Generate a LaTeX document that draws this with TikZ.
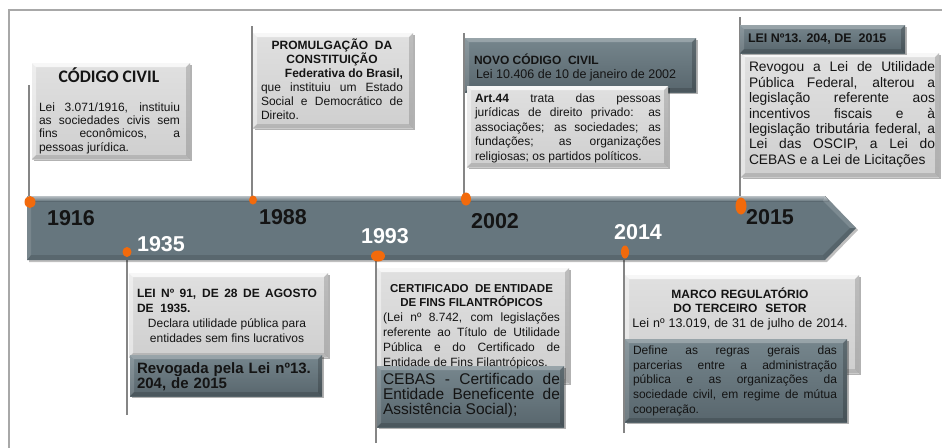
\documentclass[tikz,border=0pt]{standalone}
\usepackage{fontspec}
\setmainfont{Liberation Sans}
\newfontfamily\calib{Carlito}
\usetikzlibrary{shapes.geometric,shadows}
\definecolor{slate}{HTML}{66767E}
\definecolor{slatelt}{HTML}{76868D}
\definecolor{slatedk}{HTML}{58666D}
\definecolor{boxlt}{HTML}{E0E0E0}
\definecolor{boxmd}{HTML}{CFCFCF}
\definecolor{dotor}{HTML}{F26A0C}
\definecolor{polec}{HTML}{858585}
\definecolor{framec}{HTML}{A8A8A8}
\definecolor{ink}{HTML}{141414}
\hyphenpenalty=10000
\exhyphenpenalty=10000
\tolerance=9999
\newcommand\bevelpp[3]{%
  \fill[white,opacity=#2] (path picture bounding box.north west) -- (path picture bounding box.north east) -- ([shift={(-#1,-#1)}]path picture bounding box.north east) -- ([shift={(#1,-#1)}]path picture bounding box.north west) -- cycle;
  \fill[white,opacity=#2*0.6] (path picture bounding box.north west) -- (path picture bounding box.south west) -- ([shift={(#1,#1)}]path picture bounding box.south west) -- ([shift={(#1,-#1)}]path picture bounding box.north west) -- cycle;
  \fill[black,opacity=#3] (path picture bounding box.south west) -- (path picture bounding box.south east) -- ([shift={(-#1,#1)}]path picture bounding box.south east) -- ([shift={(#1,#1)}]path picture bounding box.south west) -- cycle;
  \fill[black,opacity=#3*1.3] (path picture bounding box.north east) -- (path picture bounding box.south east) -- ([shift={(-#1,#1)}]path picture bounding box.south east) -- ([shift={(-#1,-#1)}]path picture bounding box.north east) -- cycle;
}
\tikzset{
  boxbase/.style={anchor=north west, inner sep=0pt, outer sep=0pt,
    drop shadow={shadow xshift=2pt, shadow yshift=-2pt, opacity=0.3, fill=black}},
  lbox/.style={boxbase, top color=boxlt, bottom color=boxmd, path picture={\bevelpp{4pt}{0.75}{0.12}}},
  dbox/.style={boxbase, top color=slatelt, bottom color=slatedk, path picture={\bevelpp{4pt}{0.25}{0.15}}},
  txt/.style={inner sep=0pt, outer sep=0pt, anchor=base west, align=justify, text=ink},
  yr/.style={inner sep=0pt, anchor=base, font=\bfseries\fontsize{21.5}{21.5}\selectfont},
  dot/.style={ellipse, fill=dotor, inner sep=0pt},
  pole/.style={draw=polec, line width=1.8pt},
}
\begin{document}
\begin{tikzpicture}[x=1pt,y=-1pt]
\useasboundingbox (0,0) rectangle (942,447);
\clip (0,0) rectangle (942,447);
\fill[white] (0,0) rectangle (942,447);
% frame
\draw[framec, line width=1.3pt] (9,460) -- (9,10) -- (960,10);

% pole ends
\coordinate (c1916) at (29,85);
\coordinate (c1988) at (252,26);
\coordinate (c2002) at (464,33);
\coordinate (c2015) at (740,17);
\coordinate (c1935) at (127,415);
\coordinate (c1993) at (376,443);
\coordinate (c2014) at (624,433);
\coordinate (e1916) at (29,202);
\coordinate (e1988) at (252,200);
\coordinate (e2002) at (464,199);
\coordinate (e2015) at (740,206);
\coordinate (e1935) at (127,252);
\coordinate (e1993) at (376,256);
\coordinate (e2014) at (624,252);
\foreach \y in {1916,1988,2002,2015,1935,1993,2014}{\draw[pole] (c\y) -- (e\y);}

% arrow
\fill[slate, drop shadow={shadow xshift=2pt, shadow yshift=-2pt, opacity=0.25, fill=black}]
  (27,196) -- (825,196) -- (856,228) -- (825,260) -- (27,260) -- cycle;
\fill[top color=white!55!slate, bottom color=slate] (27,196) -- (825,196) -- (829,201) -- (31,201) -- cycle;
\fill[white,opacity=0.12] (27,196) -- (31,201) -- (31,255) -- (27,260) -- cycle;
\fill[black,opacity=0.12] (27,260) -- (31,255) -- (823,255) -- (825,260) -- cycle;
\fill[white,opacity=0.15] (825,196) -- (856,228) -- (850,228) -- (823,201) -- cycle;
\fill[black,opacity=0.15] (825,260) -- (856,228) -- (850,228) -- (823,255) -- cycle;

% dots
\node[dot, minimum width=11pt, minimum height=12pt] (d1916) at (30,202) {};
\node[dot, minimum width=8pt, minimum height=9pt] (d1988) at (253,200) {};
\node[dot, minimum width=10pt, minimum height=13pt] (d2002) at (466,199) {};
\node[dot, minimum width=11pt, minimum height=17pt] (d2015) at (741,206) {};
\node[dot, minimum width=9pt, minimum height=10pt] (d1935) at (127,252) {};
\node[dot, minimum width=14pt, minimum height=11pt] (d1993) at (378,256) {};
\node[dot, minimum width=8pt, minimum height=13pt] (d2014) at (625,252) {};

% years
\node[yr, text=ink] (y1916) at (71,225.7) {1916};
\node[yr, text=white] (y1935) at (161,251.7) {1935};
\node[yr, text=ink] (y1988) at (283,224.7) {1988};
\node[yr, text=white] (y1993) at (385,243.7) {1993};
\node[yr, text=ink] (y2002) at (495,228.7) {2002};
\node[yr, text=white] (y2014) at (638,239.7) {2014};
\node[yr, text=ink] (y2015) at (770,224.7) {2015};

% boxes top
\node[lbox, minimum width=158pt, minimum height=96pt] (b1916) at (32,63) {};
\node[lbox, minimum width=160pt, minimum height=95pt] (b1988) at (253,33) {};
\node[dbox, minimum width=231pt, minimum height=54pt] (b2002d) at (465,38) {};
\node[lbox, minimum width=201pt, minimum height=81pt] (b2002l) at (467,86) {};
\node[lbox, minimum width=198pt, minimum height=124pt] (b2015l) at (741,53) {};
\node[dbox, minimum width=165pt, minimum height=28pt] (b2015d) at (740,25) {};
% boxes bottom
\node[lbox, minimum width=199pt, minimum height=84pt] (b1935l) at (129,273) {};
\node[dbox, minimum width=192pt, minimum height=41pt] (b1935d) at (130,355) {};
\node[lbox, minimum width=192pt, minimum height=115pt] (b1993l) at (377,268) {};
\node[dbox, minimum width=187pt, minimum height=61pt] (b1993d) at (377,366) {};
\node[lbox, minimum width=234pt, minimum height=98pt] (b2014l) at (625,275) {};
\node[dbox, minimum width=222pt, minimum height=83pt] (b2014d) at (625,339) {};

% texts
\node[inner sep=0pt, anchor=base, text=ink, font=\calib\bfseries\fontsize{17.6}{18}\selectfont] (t1916a) at (109,82) {CÓDIGO CIVIL};
\node[txt, text width=141pt, font=\fontsize{12}{13.4}\selectfont] (t1916b) at (39,111)
  {Lei 3.071/1916, instituiu\linebreak as sociedades civis sem\linebreak fins econômicos, a\linebreak pessoas jurídica.};

\node[txt, text width=142pt, font=\fontsize{12}{14}\selectfont] (t1988) at (261,49.5)
  {{\centering\bfseries PROMULGAÇÃO\ \ DA\\CONSTITUIÇÃO\par}{\raggedleft\bfseries Federativa do Brasil,\par}que instituiu um Estado\linebreak Social e Democrático de\linebreak Direito.};

\node[txt, font=\bfseries\fontsize{12}{12}\selectfont] (t2002a) at (474,64.3) {NOVO CÓDIGO\ \ CIVIL};
\node[txt, font=\fontsize{12.5}{12.5}\selectfont] (t2002b) at (476,78.4) {Lei 10.406 de 10 de janeiro de 2002};
\node[txt, text width=186pt, font=\fontsize{12}{14.5}\selectfont] (t2002c) at (475,102.2)
  {\textbf{Art.44} trata das pessoas\linebreak jurídicas de direito privado: as\linebreak associações; as sociedades; as\linebreak fundações; as organizações\linebreak religiosas; os partidos políticos.};

\node[txt, font=\bfseries\fontsize{12.5}{12.5}\selectfont] (t2015a) at (748,42.3) {LEI Nº13. 204, DE\ \ 2015};
\node[txt, text width=186pt, font=\fontsize{13.8}{15.4}\selectfont] (t2015b) at (749,71.8)
  {Revogou a Lei de Utilidade\linebreak Pública Federal, alterou a\linebreak legislação referente aos\linebreak incentivos fiscais e à\linebreak legislação tributária federal, a\linebreak Lei das OSCIP, a Lei do\linebreak CEBAS e a Lei de Licitações};

\node[txt, text width=180pt, font=\fontsize{12}{15}\selectfont] (t1935a) at (137,297.3)
  {\textbf{LEI Nº 91, DE 28 DE AGOSTO\linebreak DE\ \ 1935.}\par{\centering Declara utilidade pública para\\entidades sem fins lucrativos\par}};
\node[txt, text width=185pt, align=left, font=\bfseries\fontsize{15}{14}\selectfont] (t1935b) at (137,373.4)
  {Revogada pela Lei nº13.\\204, de 2015};

\node[txt, text width=177pt, font=\fontsize{12}{14.8}\selectfont] (t1993a) at (383,292.1)
  {{\centering\bfseries\fontsize{11.5}{14.8}\selectfont CERTIFICADO\ \ DE ENTIDADE\\DE FINS FILANTRÓPICOS\par}(Lei nº 8.742, com legislações\linebreak referente ao Título de Utilidade\linebreak Pública e do Certificado de\linebreak Entidade de Fins Filantrópicos.};
\node[txt, text width=177pt, font=\fontsize{15.5}{15}\selectfont] (t1993b) at (383,384.4)
  {CEBAS - Certificado de\linebreak Entidade Beneficente de\linebreak Assistência Social);};

\node[txt, anchor=base, text width=230pt, align=center, font=\fontsize{12}{14.5}\selectfont] (t2014a) at (740,298.3)
  {\textbf{MARCO REGULATÓRIO}\\\textbf{DO TERCEIRO\ \ SETOR}\\{\fontsize{12.5}{15}\selectfont Lei nº 13.019, de 31 de julho de 2014.}};
\node[txt, text width=204pt, font=\fontsize{12}{14.8}\selectfont] (t2014b) at (633,354.2)
  {Define as regras gerais das\linebreak parcerias entre a administração\linebreak pública e as organizações da\linebreak sociedade civil, em regime de mútua\linebreak cooperação.};
\end{tikzpicture}
\end{document}
